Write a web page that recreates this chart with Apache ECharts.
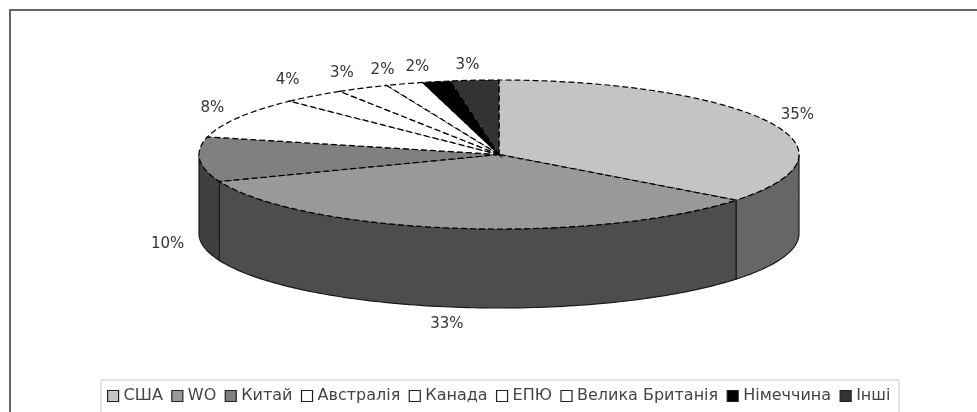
<!DOCTYPE html>
<html><head><meta charset="utf-8">
<style>html,body{margin:0;padding:0;background:#fff;overflow:hidden}#c{width:977px;height:412px;filter:blur(0.7px)}</style>
<script src="https://cdn.jsdelivr.net/npm/echarts@6/dist/echarts.min.js"></script>
</head><body><div id="c"></div>
<script>
const categories = ['США','WO','Китай','Австралія','Канада','ЕПЮ','Велика Британія','Німеччина','Інші'];
const shares = [35.5,33.6,9.7,8.9,3.4,2.8,2.0,1.5,2.6];
const percentLabels = ['35%','33%','10%','8%','4%','3%','2%','2%','3%'];
const topColors = ['#c4c4c4','#999999','#808080','#ffffff','#ffffff','#ffffff','#ffffff','#000000','#333333'];
const wallColors = ['#666666','#4d4d4d','#404040','#333333','#333333','#333333','#333333','#111111','#222222'];
const labelNudge = [[29,-7],[-9,17],[-32,6],[-26,-9],[-26,-16],[-21,-15],[-22,-14],[-19,-15],[-7,-15]];

const CX=499, CY=154.5, RX=300, RY=74.5, DEPTH=79;
const total = shares.reduce((a,b)=>a+b,0);
const FONT = '"DejaVu Sans"';
const pt=(t,dy)=>[CX+RX*Math.sin(t), CY-RY*Math.cos(t)+(dy||0)];
function arc(a,b,dy){const n=Math.max(2,Math.ceil((b-a)/0.02));const out=[];for(let i=0;i<=n;i++)out.push(pt(a+(b-a)*i/n,dy));return out;}

function makeRender(idx){
  return function(params,api){
    const before = shares.slice(0,idx).reduce((a,b)=>a+b,0);
    const a = before/total*2*Math.PI, b = a + api.value(0)/total*2*Math.PI;
    const children=[];
    const wa=Math.max(a,Math.PI/2), wb=Math.min(b,Math.PI*1.5);
    if(wb>wa){
      const top=arc(wa,wb,0), bot=arc(wa,wb,DEPTH).reverse();
      children.push({type:'polygon',z2:1,shape:{points:top.concat(bot)},style:{fill:wallColors[idx],stroke:'#1a1a1a',lineWidth:1.2}});
    }
    children.push({type:'polygon',z2:2,shape:{points:[[CX,CY]].concat(arc(a,b,0))},
      style:{fill:topColors[idx],stroke:'#000',lineWidth:1.2,lineDash:[6,3]}});
    const m=(a+b)/2;
    const front=Math.cos(m)<0;
    const p=pt(m,front?DEPTH:0);
    children.push({type:'text',z2:5,style:{text:percentLabels[idx],x:p[0]+labelNudge[idx][0],y:p[1]+labelNudge[idx][1],
      align:'center',verticalAlign:'middle',font:'15px '+FONT,fill:'#333'}});
    return {type:'group',children};
  };
}

const chart = echarts.init(document.getElementById('c'),null,{renderer:'canvas'});
chart.setOption({
  animation:false,
  backgroundColor:'#fff',
  graphic:[
    {type:'rect',z:-10,shape:{x:10,y:10,width:1000,height:430},style:{fill:'#fff',stroke:'#666',lineWidth:2}},
    {type:'rect',z:-9,shape:{x:101,y:380,width:798,height:50},style:{fill:'#fff',stroke:'#c8c8c8',lineWidth:1}}
  ],
  legend:{
    data:categories,left:102,top:383,itemWidth:11,itemHeight:11,itemGap:8.4,
    icon:'rect',
    textStyle:{fontFamily:FONT,fontSize:16,color:'#444'},
    itemStyle:{borderColor:'#222',borderWidth:1.2}
  },
  series:categories.map((name,i)=>({
    type:'custom',name,coordinateSystem:'none',
    itemStyle:{color:topColors[i]},
    renderItem:makeRender(i),
    data:[[shares[i]]]
  }))
});
</script></body></html>
